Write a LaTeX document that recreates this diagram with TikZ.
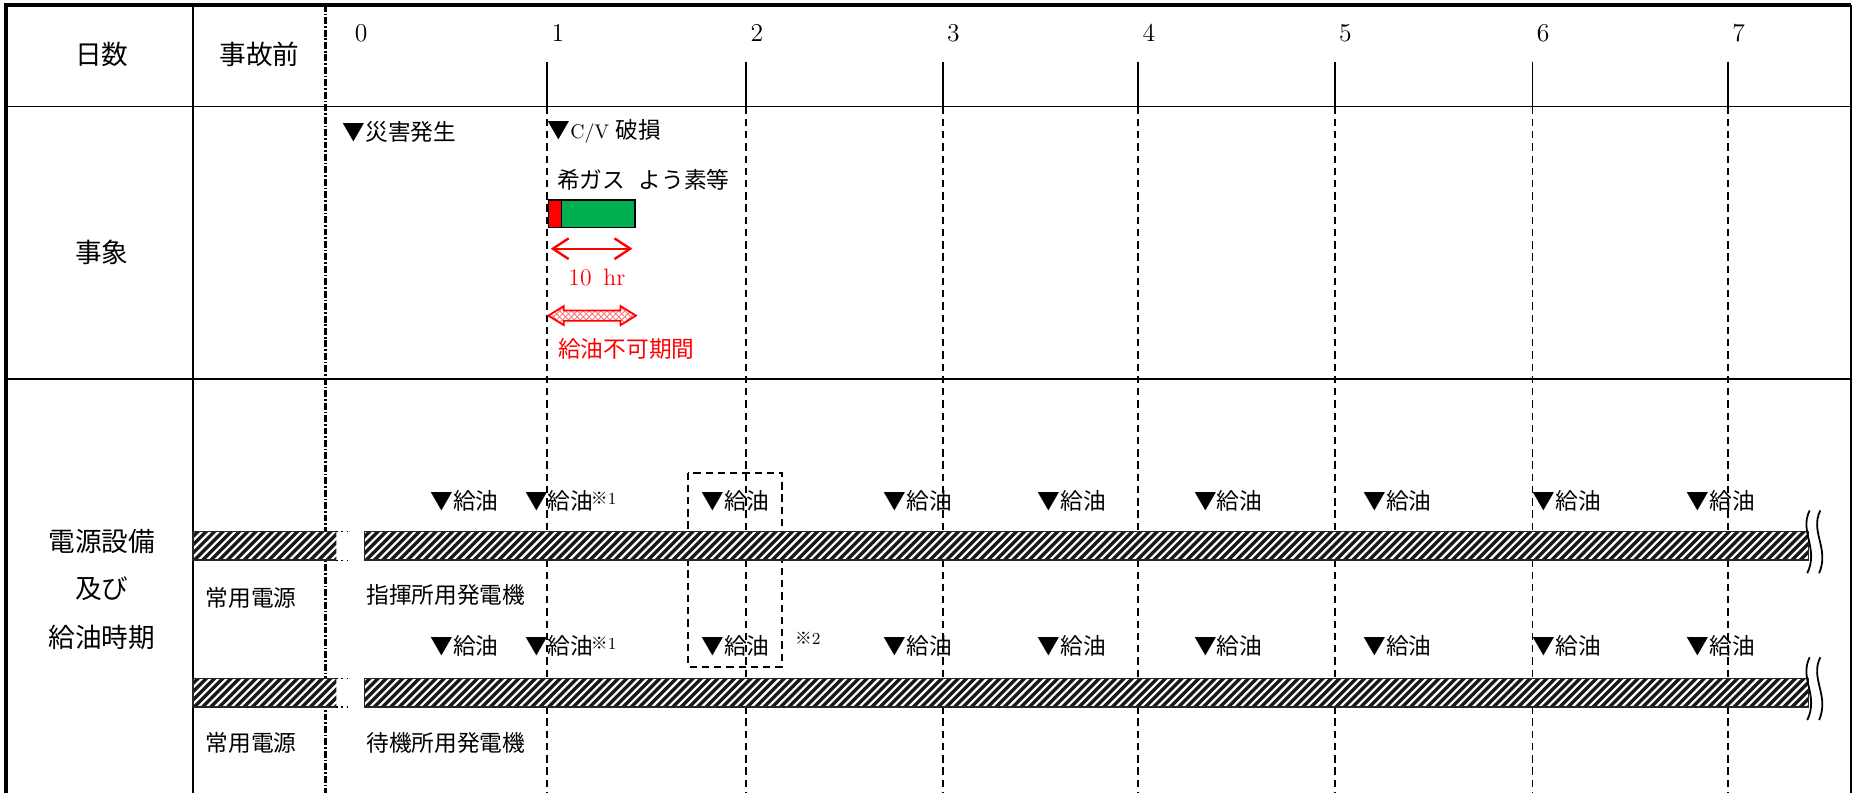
\documentclass[tikz,border=0pt]{standalone}
\usepackage{fontspec}
\newfontfamily\jp{Noto Sans CJK JP}
\usetikzlibrary{patterns,arrows.meta}
\definecolor{bargreen}{HTML}{00B050}
\newcommand\hatchbar[5]{%
  \begin{scope}
    \clip (#1,#2) rectangle (#3,#4);
    \fill[white] (#1,#2) rectangle (#3,#4);
    \foreach \k in {0,...,#5}
      \draw[line width=1.7pt,black!90] ({#1-30+7*\k},{#4+3}) -- ++(30,-30);
  \end{scope}}
\newcommand\breakmark[2]{%
  \draw[line width=0.9pt] (#1,#2) .. controls (#1-9,#2+18) and (#1+8,#2+32) .. (#1-2,#2+53);
  \draw[line width=0.9pt] (#1+9,#2) .. controls (#1,#2+18) and (#1+17,#2+32) .. (#1+8,#2+53);}
\begin{document}
\begin{tikzpicture}[x=0.6pt,y=-0.6pt,
  big/.style={font=\jp\fontsize{13.5}{16}\selectfont,inner sep=0pt},
  sm/.style={font=\jp\fontsize{11.5}{14}\selectfont,inner sep=0pt},
  num/.style={font=\fontsize{13}{15}\selectfont,inner sep=0pt},
  supmark/.style={font=\jp\fontsize{8.5}{10}\selectfont,inner sep=0pt},
  ruleline/.style={line width=0.9pt},
  dashv/.style={line width=0.85pt,dash pattern=on 3.7pt off 2.5pt},
  dashbox/.style={line width=1pt,dash pattern=on 3.7pt off 2.5pt},
  dashdot/.style={line width=1.3pt,dash pattern=on 3.5pt off 1pt on 0.8pt off 1pt},
  barout/.style={line width=0.7pt,draw=black!85},
  redtxt/.style={text=red}]
\useasboundingbox (0,0) rectangle (1568,670);

% day lines
\foreach \i/\x in {1/462,2/630,3/796,4/961,5/1127,6/1294,7/1459} {
  \draw[ruleline] (\x,52) -- (\x,90);
  \draw[dashv] (\x,90) -- (\x,670);
  \node[num] (d\i) at (\x+9,28) {\i};
}
\node[num] (d0) at (305,28) {0};

% grid
\draw[ruleline] (6,90) -- (1563,90);
\draw[ruleline] (6,320) -- (1563,320);
\draw[ruleline] (163,4) -- (163,670);
\draw[dashdot] (275,4) -- (275,670);
\draw[line width=2pt] (5,670) -- (5,4) -- (1563,4);
\draw[line width=1.2pt] (1563,4) -- (1563,670);

% header
\node[big] (hdays) at (86,46) {日数};
\node[big] (hpre) at (219,46) {事故前};

% events row
\node[big] (hev) at (86,213) {事象};
\node[sm,anchor=west] (ev1) at (289,111) {▼災害発生};
\node[sm,anchor=west] (ev2) at (462,111) {▼{\rmfamily\fontsize{10}{12}\selectfont C/V}\hspace{0.3em}破損};
\node[sm,anchor=west] (gas) at (470,152) {希ガス\hspace{0.6em}よう素等};
\draw[line width=0.8pt,fill=red] (463,169) rectangle (474,192);
\draw[line width=0.8pt,fill=bargreen] (474,169) rectangle (536,192);
\coordinate (ra) at (465,210);
\coordinate (rb) at (534,210);
\draw[red,line width=1.2pt,{Straight Barb[length=8pt,width=10.5pt]}-{Straight Barb[length=8pt,width=10.5pt]}] (ra) -- (rb);
\node[font=\fontsize{12}{14}\selectfont,text=red,inner sep=0pt] (hr) at (504,234) {10\hspace{0.5em}hr};
\path[pattern=north east lines,pattern color=red!55] (463,266.5) -- (476,258.5) -- (476,262.2) -- (524,262.2) -- (524,258.5) -- (537,266.5) -- (524,274.5) -- (524,270.8) -- (476,270.8) -- (476,274.5) -- cycle;
\path[pattern=north west lines,pattern color=red!55] (463,266.5) -- (476,258.5) -- (476,262.2) -- (524,262.2) -- (524,258.5) -- (537,266.5) -- (524,274.5) -- (524,270.8) -- (476,270.8) -- (476,274.5) -- cycle;
\draw[red,line width=0.9pt,line join=miter] (463,266.5) -- (476,258.5) -- (476,262.2) -- (524,262.2) -- (524,258.5) -- (537,266.5) -- (524,274.5) -- (524,270.8) -- (476,270.8) -- (476,274.5) -- cycle;
\node[sm,anchor=west,redtxt] (nofuel) at (471,295) {給油不可期間};

% power row
\node[big] (p1) at (86,457) {電源設備};
\node[big] (p2) at (86,497) {及び};
\node[big] (p3) at (86,538) {給油時期};

% refuel marks
\foreach \r/\y in {a/423,b/545} {
  \foreach \j/\x in {1/363,3/592,4/746,5/876,6/1008,7/1151,8/1294,9/1424}
    \node[sm,anchor=west] (f\r\j) at (\x,\y) {▼給油};
  \node[sm,anchor=west] (f\r2) at (443,\y) {▼給油};
  \node[supmark,anchor=south west] (s\r) at ([xshift=-1.5pt,yshift=-2pt]f\r2.east) {※{\rmfamily 1}};
}
\node[supmark,anchor=west] (s2) at (671,539) {※{\rmfamily 2}};
\draw[dashbox] (581,399) rectangle (660,563);

% bars
\hatchbar{163}{449}{284}{473}{23}
\draw[barout] (284,449) -- (163,449) -- (163,473) -- (284,473);
\draw[line width=0.6pt,dotted] (284,449) -- (295,449) (284,473) -- (295,473);
\hatchbar{308}{449}{1527}{473}{180}
\draw[barout] (308,449) rectangle (1527,473);
\breakmark{1528}{431}

\hatchbar{163}{573}{284}{597}{23}
\draw[barout] (284,573) -- (163,573) -- (163,597) -- (284,597);
\draw[line width=0.6pt,dotted] (284,573) -- (295,573) (284,597) -- (295,597);
\hatchbar{308}{573}{1527}{597}{180}
\draw[barout] (308,573) rectangle (1527,597);
\breakmark{1528}{555}

\node[sm] (c1) at (212,505) {常用電源};
\node[sm,anchor=west] (g1) at (309,502) {指揮所用発電機};
\node[sm] (c2) at (212,627) {常用電源};
\node[sm,anchor=west] (g2) at (309,627) {待機所用発電機};
\end{tikzpicture}
\end{document}
